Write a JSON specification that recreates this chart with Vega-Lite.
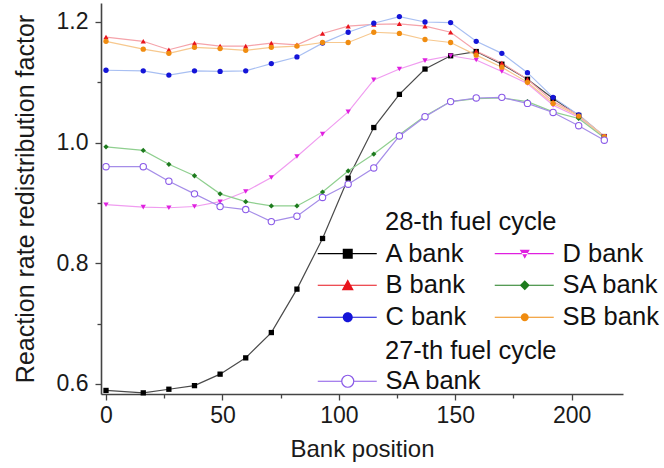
{
  "$schema": "https://vega.github.io/schema/vega-lite/v6.json",
  "width": 522,
  "height": 391,
  "autosize": {"type": "none"},
  "padding": {"left": 101, "top": 3, "right": 41, "bottom": 74},
  "background": "white",
  "config": {
    "view": {"stroke": null},
    "font": "Liberation Sans",
    "axis": {
      "labelFont": "Liberation Sans",
      "titleFont": "Liberation Sans",
      "labelFontSize": 23,
      "titleFontSize": 24,
      "titleFontWeight": "normal",
      "labelColor": "#1a1a1a",
      "titleColor": "#1a1a1a",
      "domainColor": "#444444",
      "domainWidth": 1.6,
      "tickColor": "#444444",
      "tickWidth": 1.3,
      "grid": false
    }
  },
  "datasets": {
    "c28": [
      {"x": 0, "y": 0.589, "s": "A bank"}, {"x": 16, "y": 0.585, "s": "A bank"}, {"x": 27, "y": 0.591, "s": "A bank"}, {"x": 38, "y": 0.597, "s": "A bank"}, {"x": 49, "y": 0.616, "s": "A bank"}, {"x": 60, "y": 0.643, "s": "A bank"}, {"x": 71, "y": 0.685, "s": "A bank"}, {"x": 82, "y": 0.757, "s": "A bank"}, {"x": 93, "y": 0.841, "s": "A bank"}, {"x": 104, "y": 0.941, "s": "A bank"}, {"x": 115, "y": 1.025, "s": "A bank"}, {"x": 126, "y": 1.08, "s": "A bank"}, {"x": 137, "y": 1.122, "s": "A bank"}, {"x": 148, "y": 1.144, "s": "A bank"}, {"x": 159, "y": 1.151, "s": "A bank"}, {"x": 170, "y": 1.13, "s": "A bank"}, {"x": 181, "y": 1.105, "s": "A bank"}, {"x": 192, "y": 1.073, "s": "A bank"}, {"x": 203, "y": 1.045, "s": "A bank"}, {"x": 214, "y": 1.01, "s": "A bank"},
      {"x": 0, "y": 1.175, "s": "B bank"}, {"x": 16, "y": 1.168, "s": "B bank"}, {"x": 27, "y": 1.154, "s": "B bank"}, {"x": 38, "y": 1.165, "s": "B bank"}, {"x": 49, "y": 1.16, "s": "B bank"}, {"x": 60, "y": 1.16, "s": "B bank"}, {"x": 71, "y": 1.165, "s": "B bank"}, {"x": 82, "y": 1.162, "s": "B bank"}, {"x": 93, "y": 1.181, "s": "B bank"}, {"x": 104, "y": 1.193, "s": "B bank"}, {"x": 115, "y": 1.196, "s": "B bank"}, {"x": 126, "y": 1.197, "s": "B bank"}, {"x": 137, "y": 1.193, "s": "B bank"}, {"x": 148, "y": 1.183, "s": "B bank"}, {"x": 159, "y": 1.152, "s": "B bank"}, {"x": 170, "y": 1.132, "s": "B bank"}, {"x": 181, "y": 1.105, "s": "B bank"}, {"x": 192, "y": 1.068, "s": "B bank"}, {"x": 203, "y": 1.046, "s": "B bank"}, {"x": 214, "y": 1.01, "s": "B bank"},
      {"x": 0, "y": 1.12, "s": "C bank"}, {"x": 16, "y": 1.119, "s": "C bank"}, {"x": 27, "y": 1.112, "s": "C bank"}, {"x": 38, "y": 1.119, "s": "C bank"}, {"x": 49, "y": 1.118, "s": "C bank"}, {"x": 60, "y": 1.119, "s": "C bank"}, {"x": 71, "y": 1.131, "s": "C bank"}, {"x": 82, "y": 1.142, "s": "C bank"}, {"x": 93, "y": 1.165, "s": "C bank"}, {"x": 104, "y": 1.183, "s": "C bank"}, {"x": 115, "y": 1.198, "s": "C bank"}, {"x": 126, "y": 1.209, "s": "C bank"}, {"x": 137, "y": 1.2, "s": "C bank"}, {"x": 148, "y": 1.199, "s": "C bank"}, {"x": 159, "y": 1.168, "s": "C bank"}, {"x": 170, "y": 1.148, "s": "C bank"}, {"x": 181, "y": 1.116, "s": "C bank"}, {"x": 192, "y": 1.075, "s": "C bank"}, {"x": 203, "y": 1.046, "s": "C bank"}, {"x": 214, "y": 1.01, "s": "C bank"},
      {"x": 0, "y": 0.897, "s": "D bank"}, {"x": 16, "y": 0.893, "s": "D bank"}, {"x": 27, "y": 0.892, "s": "D bank"}, {"x": 38, "y": 0.894, "s": "D bank"}, {"x": 49, "y": 0.902, "s": "D bank"}, {"x": 60, "y": 0.919, "s": "D bank"}, {"x": 71, "y": 0.942, "s": "D bank"}, {"x": 82, "y": 0.977, "s": "D bank"}, {"x": 93, "y": 1.014, "s": "D bank"}, {"x": 104, "y": 1.051, "s": "D bank"}, {"x": 115, "y": 1.104, "s": "D bank"}, {"x": 126, "y": 1.122, "s": "D bank"}, {"x": 137, "y": 1.136, "s": "D bank"}, {"x": 148, "y": 1.144, "s": "D bank"}, {"x": 159, "y": 1.137, "s": "D bank"}, {"x": 170, "y": 1.118, "s": "D bank"}, {"x": 181, "y": 1.098, "s": "D bank"}, {"x": 192, "y": 1.062, "s": "D bank"}, {"x": 203, "y": 1.042, "s": "D bank"}, {"x": 214, "y": 1.01, "s": "D bank"},
      {"x": 0, "y": 0.993, "s": "SA bank"}, {"x": 16, "y": 0.987, "s": "SA bank"}, {"x": 27, "y": 0.964, "s": "SA bank"}, {"x": 38, "y": 0.945, "s": "SA bank"}, {"x": 49, "y": 0.915, "s": "SA bank"}, {"x": 60, "y": 0.902, "s": "SA bank"}, {"x": 71, "y": 0.895, "s": "SA bank"}, {"x": 82, "y": 0.895, "s": "SA bank"}, {"x": 93, "y": 0.918, "s": "SA bank"}, {"x": 104, "y": 0.953, "s": "SA bank"}, {"x": 115, "y": 0.981, "s": "SA bank"}, {"x": 126, "y": 1.013, "s": "SA bank"}, {"x": 137, "y": 1.044, "s": "SA bank"}, {"x": 148, "y": 1.068, "s": "SA bank"}, {"x": 159, "y": 1.073, "s": "SA bank"}, {"x": 170, "y": 1.074, "s": "SA bank"}, {"x": 181, "y": 1.068, "s": "SA bank"}, {"x": 192, "y": 1.051, "s": "SA bank"}, {"x": 203, "y": 1.04, "s": "SA bank"}, {"x": 214, "y": 1.008, "s": "SA bank"},
      {"x": 0, "y": 1.168, "s": "SB bank"}, {"x": 16, "y": 1.155, "s": "SB bank"}, {"x": 27, "y": 1.148, "s": "SB bank"}, {"x": 38, "y": 1.158, "s": "SB bank"}, {"x": 49, "y": 1.156, "s": "SB bank"}, {"x": 60, "y": 1.153, "s": "SB bank"}, {"x": 71, "y": 1.158, "s": "SB bank"}, {"x": 82, "y": 1.16, "s": "SB bank"}, {"x": 93, "y": 1.166, "s": "SB bank"}, {"x": 104, "y": 1.166, "s": "SB bank"}, {"x": 115, "y": 1.183, "s": "SB bank"}, {"x": 126, "y": 1.181, "s": "SB bank"}, {"x": 137, "y": 1.171, "s": "SB bank"}, {"x": 148, "y": 1.166, "s": "SB bank"}, {"x": 159, "y": 1.145, "s": "SB bank"}, {"x": 170, "y": 1.125, "s": "SB bank"}, {"x": 181, "y": 1.1, "s": "SB bank"}, {"x": 192, "y": 1.065, "s": "SB bank"}, {"x": 203, "y": 1.044, "s": "SB bank"}, {"x": 214, "y": 1.01, "s": "SB bank"}
    ],
    "c27": [
      {"x": 0, "y": 0.96, "s": "SA bank"}, {"x": 16, "y": 0.96, "s": "SA bank"}, {"x": 27, "y": 0.936, "s": "SA bank"}, {"x": 38, "y": 0.915, "s": "SA bank"}, {"x": 49, "y": 0.894, "s": "SA bank"}, {"x": 60, "y": 0.889, "s": "SA bank"}, {"x": 71, "y": 0.869, "s": "SA bank"}, {"x": 82, "y": 0.878, "s": "SA bank"}, {"x": 93, "y": 0.909, "s": "SA bank"}, {"x": 104, "y": 0.931, "s": "SA bank"}, {"x": 115, "y": 0.958, "s": "SA bank"}, {"x": 126, "y": 1.011, "s": "SA bank"}, {"x": 137, "y": 1.043, "s": "SA bank"}, {"x": 148, "y": 1.068, "s": "SA bank"}, {"x": 159, "y": 1.074, "s": "SA bank"}, {"x": 170, "y": 1.075, "s": "SA bank"}, {"x": 181, "y": 1.065, "s": "SA bank"}, {"x": 192, "y": 1.05, "s": "SA bank"}, {"x": 203, "y": 1.028, "s": "SA bank"}, {"x": 214, "y": 1.004, "s": "SA bank"}
    ]
  },
  "encoding": {
    "x": {
      "field": "x", "type": "quantitative",
      "scale": {"domain": [-2.15, 222.03], "nice": false, "zero": false},
      "axis": {
        "title": "Bank position",
        "values": [0, 25, 50, 75, 100, 125, 150, 175, 200],
        "labelExpr": "datum.value % 50 === 0 ? datum.label : ''",
        "tickSize": {"condition": {"test": "datum.value % 50 === 0", "value": 6}, "value": 4},
        "labelPadding": 4,
        "titlePadding": 10,
        "labelFlush": false
      }
    },
    "y": {
      "field": "y", "type": "quantitative",
      "scale": {"domain": [0.5831, 1.2315], "nice": false, "zero": false},
      "axis": {
        "title": "Reaction rate redistribution factor",
        "titleFontSize": 25,
        "values": [0.6, 0.7, 0.8, 0.9, 1.0, 1.1, 1.2],
        "format": ".1f",
        "labelExpr": "abs(datum.value*10 - 2*round(datum.value*5)) < 0.01 ? datum.label : ''",
        "tickSize": {"condition": {"test": "abs(datum.value*10 - 2*round(datum.value*5)) < 0.01", "value": 6}, "value": 4},
        "labelPadding": 7,
        "titlePadding": 18,
        "labelFlush": false
      }
    }
  },
  "layer": [
    {
      "data": {"name": "c28"},
      "mark": {"type": "line", "strokeWidth": 1.2},
      "encoding": {
        "stroke": {
          "field": "s", "type": "nominal", "legend": null,
          "scale": {"domain": ["A bank", "B bank", "C bank", "D bank", "SA bank", "SB bank"], "range": ["#4a4a4a", "#f5a3aa", "#a8bff2", "#f09cf0", "#8fcf8f", "#f7c88e"]}
        }
      }
    },
    {
      "data": {"name": "c27"},
      "mark": {"type": "line", "strokeWidth": 1.2, "stroke": "#a58de8"},
      "encoding": {
        "detail": {"field": "s", "type": "nominal"}
      }
    },
    {
      "data": {"name": "c28"},
      "mark": {"type": "point", "filled": true, "size": 28, "opacity": 1},
      "encoding": {
        "color": {
          "field": "s", "type": "nominal", "legend": null,
          "scale": {"domain": ["A bank", "B bank", "C bank", "D bank", "SA bank", "SB bank"], "range": ["#000000", "#e8141c", "#1414d8", "#e020e0", "#1e7b1e", "#f08c10"]}
        },
        "shape": {
          "field": "s", "type": "nominal", "legend": null,
          "scale": {"domain": ["A bank", "B bank", "C bank", "D bank", "SA bank", "SB bank"], "range": ["square", "triangle-up", "circle", "triangle-down", "diamond", "circle"]}
        }
      }
    },
    {
      "data": {"name": "c28"},
      "mark": {"type": "point", "filled": true, "opacity": 0, "size": 4},
      "encoding": {
        "color": {
          "field": "s", "type": "nominal",
          "scale": {"domain": ["A bank", "B bank", "C bank", "D bank", "SA bank", "SB bank"], "range": ["#000000", "#e8141c", "#1414d8", "#e020e0", "#1e7b1e", "#f08c10"]},
          "legend": {
            "title": "28-th fuel cycle",
            "orient": "none", "legendX": 284, "legendY": 207,
            "columns": 2, "columnPadding": 27, "rowPadding": 5,
            "symbolSize": 4, "symbolOpacity": 1, "symbolStrokeWidth": 0, "labelOffset": -25, "padding": 0,
            "titleFont": "Liberation Sans", "titleFontSize": 25.5, "titleFontWeight": "normal", "titleColor": "#111111", "titlePadding": 5,
            "labelFont": "Liberation Sans", "labelFontSize": 25.5, "labelColor": "#111111", "labelLimit": 300
          }
        },
        "shape": {
          "field": "s", "type": "nominal",
          "scale": {"domain": ["A bank", "B bank", "C bank", "D bank", "SA bank", "SB bank"], "range": [
            "M-80,-0.6L-21,-0.6L-21,0.6L-80,0.6ZM-55,-5L-45,-5L-45,5L-55,5Z",
            "M-80,-0.6L-21,-0.6L-21,0.6L-80,0.6ZM-50,-6L-44,5L-56,5Z",
            "M-80,-0.6L-21,-0.6L-21,0.6L-80,0.6ZM-45,0A5,5 0 1,1 -55,0A5,5 0 1,1 -45,0Z",
            "M-80,-0.6L-21,-0.6L-21,0.6L-80,0.6ZM-50,5L-45,-4L-55,-4Z",
            "M-80,-0.6L-21,-0.6L-21,0.6L-80,0.6ZM-50,-5L-45,0L-50,5L-55,0Z",
            "M-80,-0.6L-21,-0.6L-21,0.6L-80,0.6ZM-46,0A4,4 0 1,1 -54,0A4,4 0 1,1 -46,0Z"
          ]},
          "legend": {
            "title": "28-th fuel cycle",
            "orient": "none", "legendX": 284, "legendY": 207,
            "columns": 2, "columnPadding": 27, "rowPadding": 5,
            "symbolSize": 4, "symbolOpacity": 1, "symbolStrokeWidth": 0, "labelOffset": -25, "padding": 0,
            "titleFont": "Liberation Sans", "titleFontSize": 25.5, "titleFontWeight": "normal", "titleColor": "#111111", "titlePadding": 5,
            "labelFont": "Liberation Sans", "labelFontSize": 25.5, "labelColor": "#111111", "labelLimit": 300
          }
        }
      }
    },
    {
      "data": {"name": "c27"},
      "mark": {"type": "point", "filled": false, "size": 40, "opacity": 1, "strokeWidth": 1.1, "fill": "white", "fillOpacity": 1},
      "encoding": {
        "color": {
          "field": "s", "type": "nominal",
          "scale": {"domain": ["SA bank"], "range": ["#8a5ae8"]},
          "legend": {
            "title": "27-th fuel cycle",
            "orient": "none", "legendX": 284, "legendY": 336,
            "symbolSize": 4, "symbolStrokeWidth": 1.2, "symbolFillColor": "#ffffff",
            "symbolType": "M-80,0L-56,0M-44,0L-21,0M-44,0A6,6 0 1,1 -56,0A6,6 0 1,1 -44,0Z",
            "labelOffset": -25, "padding": 0,
            "titleFont": "Liberation Sans", "titleFontSize": 25.5, "titleFontWeight": "normal", "titleColor": "#111111", "titlePadding": 4,
            "labelFont": "Liberation Sans", "labelFontSize": 25.5, "labelColor": "#111111", "labelLimit": 300
          }
        }
      }
    }
  ],
  "resolve": {"scale": {"color": "independent", "shape": "independent"}}
}
